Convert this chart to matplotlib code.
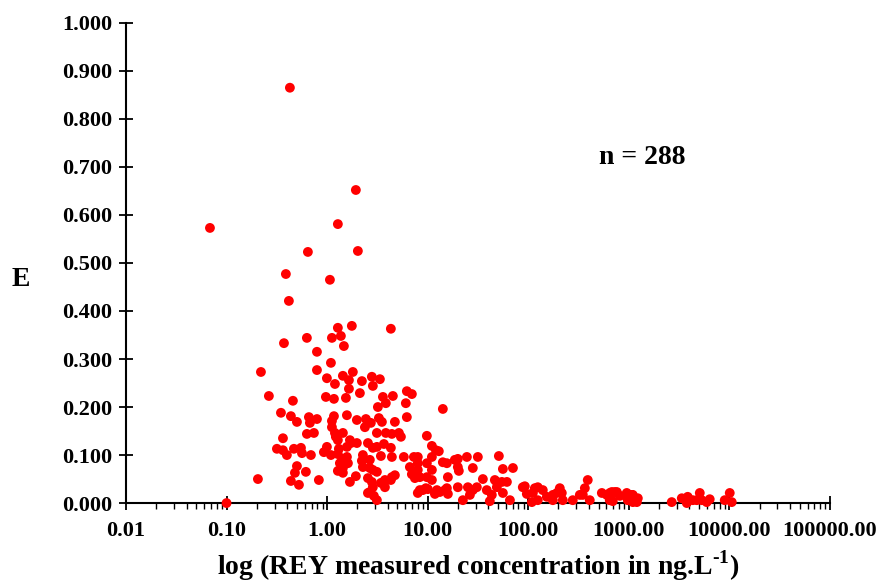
import numpy as np
import matplotlib
matplotlib.use("Agg")
import matplotlib.pyplot as plt
from matplotlib.ticker import FixedLocator, FuncFormatter, LogLocator, NullFormatter

plt.rcParams['font.family'] = ['Liberation Serif', 'DejaVu Serif']
plt.rcParams['font.weight'] = 'bold'
plt.rcParams['mathtext.fontset'] = 'custom'
plt.rcParams['mathtext.rm'] = 'Liberation Serif:bold'
plt.rcParams['mathtext.bf'] = 'Liberation Serif:bold'

# log10 of REY measured concentration (ng/L) and E values
log_conc = [
    -1.165, -1.00, -0.688, -0.658, -0.579, -0.499, -0.439, -0.459, -0.439, -0.429,
    -0.410, -0.400, -0.380, -0.370, -0.360, -0.360, -0.340, -0.330, -0.320, -0.300,
    -0.300, -0.280, -0.260, -0.250, -0.211, -0.201, -0.201, -0.191, -0.181, -0.171,
    -0.161, -0.131, -0.101, -0.101, -0.101, -0.082, -0.032, -0.012, -0.002, -0.002,
    0.028, 0.038, 0.038, 0.048, 0.048, 0.048, 0.068, 0.068, 0.078, 0.078,
    0.087, 0.107, 0.107, 0.107, 0.107, 0.107, 0.127, 0.137, 0.157, 0.157,
    0.157, 0.157, 0.157, 0.167, 0.177, 0.187, 0.197, 0.197, 0.197, 0.207,
    0.217, 0.217, 0.227, 0.227, 0.237, 0.246, 0.256, 0.286, 0.286, 0.296,
    0.296, 0.306, 0.326, 0.346, 0.346, 0.356, 0.356, 0.376, 0.386, 0.406,
    0.406, 0.406, 0.425, 0.425, 0.425, 0.445, 0.435, 0.445, 0.455, 0.455,
    0.455, 0.455, 0.465, 0.495, 0.495, 0.495, 0.495, 0.505, 0.515, 0.525,
    0.535, 0.535, 0.545, 0.555, 0.565, 0.584, 0.584, 0.575, 0.575, 0.644,
    0.634, 0.634, 0.634, 0.644, 0.644, 0.654, 0.674, 0.674, 0.714, 0.734,
    0.763, 0.783, 0.793, 0.793, 0.823, 0.843, 0.843, 0.863, 0.873, 0.902,
    0.902, 0.902, 0.902, 0.922, 0.922, 0.952, 0.982, 0.992, 0.992, 0.992,
    1.002, 1.042, 1.042, 1.042, 1.042, 1.072, 1.082, 1.092, 1.111, 1.121,
    1.151, 1.151, 1.171, 1.191, 1.191, 1.201, 1.201, 1.270, 1.300, 1.300,
    1.300, 1.310, 1.350, 1.390, 1.400, 1.420, 1.449, 1.449, 1.489, 1.499,
    1.549, 1.588, 1.618, 1.638, 1.668, 1.688, 1.688, 1.708, 1.738, 1.748,
    1.748, 1.788, 1.818, 1.848, 1.946, 1.966, 1.986, 2.036, 2.046, 2.066,
    2.095, 2.095, 2.145, 2.185, 2.245, 2.245, 2.285, 2.314, 2.334, 2.344,
    2.443, 2.513, 2.543, 2.563, 2.592, 2.612, 2.732, 2.781, 2.811, 2.811,
    2.831, 2.841, 2.861, 2.881, 2.911, 2.980, 2.980, 2.990, 3.030, 3.040,
    3.060, 3.080, 3.090, 3.427, 3.527, 3.577, 3.586, 3.636, 3.676, 3.706,
    3.726, 3.775, 3.805, 3.954, 4.004, 4.024, 0.117, 2.811, 3.040,
]
e_values = [
    0.573, 0.000, 0.050, 0.273, 0.223, 0.113, 0.110, 0.188, 0.135, 0.333,
    0.477, 0.100, 0.421, 0.865, 0.181, 0.046, 0.213, 0.113, 0.063, 0.169,
    0.077, 0.038, 0.115, 0.104, 0.065, 0.344, 0.144, 0.523, 0.179, 0.167,
    0.100, 0.146, 0.315, 0.277, 0.175, 0.048, 0.106, 0.221, 0.260, 0.117,
    0.465, 0.292, 0.100, 0.344, 0.171, 0.158, 0.217, 0.181, 0.248, 0.146,
    0.138, 0.581, 0.365, 0.131, 0.102, 0.067, 0.083, 0.348, 0.265, 0.146,
    0.092, 0.073, 0.063, 0.327, 0.090, 0.219, 0.183, 0.117, 0.096, 0.083,
    0.256, 0.238, 0.131, 0.044, 0.125, 0.369, 0.273, 0.652, 0.056, 0.173,
    0.125, 0.525, 0.229, 0.254, 0.088, 0.100, 0.075, 0.158, 0.175, 0.125,
    0.052, 0.021, 0.090, 0.073, 0.023, 0.263, 0.167, 0.044, 0.244, 0.115,
    0.069, 0.033, 0.015, 0.146, 0.117, 0.065, 0.006, 0.200, 0.177, 0.258,
    0.098, 0.042, 0.169, 0.221, 0.123, 0.208, 0.146, 0.048, 0.033, 0.144,
    0.363, 0.115, 0.048, 0.096, 0.054, 0.223, 0.169, 0.058, 0.146, 0.138,
    0.096, 0.208, 0.233, 0.179, 0.075, 0.227, 0.060, 0.096, 0.052, 0.096,
    0.083, 0.069, 0.021, 0.054, 0.027, 0.027, 0.031, 0.140, 0.054, 0.083,
    0.029, 0.119, 0.096, 0.069, 0.048, 0.019, 0.110, 0.027, 0.108, 0.023,
    0.196, 0.085, 0.027, 0.083, 0.031, 0.054, 0.019, 0.090, 0.092, 0.075,
    0.033, 0.067, 0.006, 0.096, 0.033, 0.017, 0.073, 0.027, 0.033, 0.096,
    0.050, 0.027, 0.004, 0.017, 0.048, 0.044, 0.033, 0.098, 0.044, 0.071,
    0.021, 0.044, 0.006, 0.073, 0.033, 0.035, 0.019, 0.002, 0.021, 0.031,
    0.033, 0.006, 0.027, 0.013, 0.017, 0.006, 0.021, 0.031, 0.021, 0.006,
    0.006, 0.017, 0.017, 0.031, 0.048, 0.006, 0.021, 0.017, 0.013, 0.006,
    0.023, 0.004, 0.023, 0.023, 0.015, 0.021, 0.013, 0.006, 0.017, 0.002,
    0.010, 0.002, 0.010, 0.002, 0.010, 0.000, 0.013, 0.006, 0.006, 0.021,
    0.006, 0.002, 0.008, 0.006, 0.021, 0.002, 0.113, 0.021, 0.017,
]

x_ticks = [0.01, 0.1, 1, 10, 100, 1000, 10000, 100000]
y_ticks = [0.0, 0.1, 0.2, 0.3, 0.4, 0.5, 0.6, 0.7, 0.8, 0.9, 1.0]
n_label = "n = 288"

conc = 10 ** np.array(log_conc)
e = np.array(e_values)

fig = plt.figure(figsize=(8.81, 5.87), dpi=100)
ax = fig.add_axes([0.143, 0.143, 0.799, 0.818])

ax.scatter(conc, e, s=50, color='#FF0000', edgecolors='none', zorder=3, clip_on=False)

ax.set_xscale('log')
ax.set_xlim(0.01, 100000)
ax.set_ylim(0, 1.0)

ax.xaxis.set_major_locator(FixedLocator(x_ticks))
ax.xaxis.set_major_formatter(FuncFormatter(lambda v, p: f"{v:.2f}"))
ax.xaxis.set_minor_locator(LogLocator(base=10, subs=np.arange(2, 10)))
ax.xaxis.set_minor_formatter(NullFormatter())
ax.yaxis.set_major_locator(FixedLocator(y_ticks))
ax.yaxis.set_major_formatter(FuncFormatter(lambda v, p: f"{v:.3f}"))

for side in ['top', 'right']:
    ax.spines[side].set_visible(False)
for side in ['left', 'bottom']:
    ax.spines[side].set_linewidth(1.5)
    ax.spines[side].set_color('black')

ax.tick_params(axis='y', which='major', direction='inout', length=10, width=1.3,
               labelsize=16, pad=5)
ax.tick_params(axis='x', which='major', direction='inout', length=10, width=1.3,
               labelsize=16, pad=8)
ax.tick_params(axis='x', which='minor', direction='out', length=4, width=1.0)
for lab in ax.get_xticklabels() + ax.get_yticklabels():
    lab.set_fontweight('bold')

ax.set_xlabel(r"log (REY measured concentration in ng.L$^{\text{-1}}$)", fontsize=20,
              fontweight='bold', labelpad=5)
ax.set_ylabel("E", fontsize=20, fontweight='bold', rotation=0, va='center', ha='center')
ax.yaxis.set_label_coords(-0.15, 0.465)

ax.text(0.734, 0.719, n_label, transform=ax.transAxes, fontsize=20,
        fontweight='bold', ha='center', va='center')

fig.savefig("out.png", dpi=100)
